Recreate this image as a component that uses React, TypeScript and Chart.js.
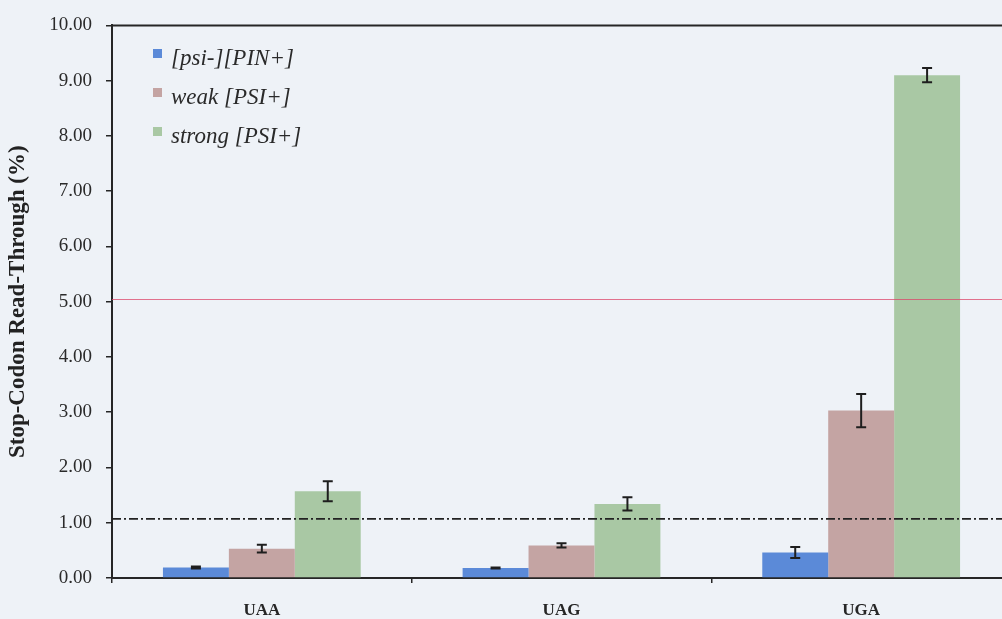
import React, { useEffect, useRef } from 'react';
import { Chart, registerables } from 'chart.js';

Chart.register(...registerables);

const categories = ['UAA', 'UAG', 'UGA'];
const seriesLabels = ['[psi-][PIN+]', 'weak [PSI+]', 'strong [PSI+]'];
const seriesColors = ['#5b8ad8', '#c4a4a3', '#a9c8a4'];
const psiMinusValues = [0.19, 0.18, 0.46];
const psiMinusErrors = [0.02, 0.01, 0.1];
const weakValues = [0.53, 0.59, 3.03];
const weakErrors = [0.07, 0.04, 0.3];
const strongValues = [1.57, 1.34, 9.1];
const strongErrors = [0.18, 0.12, 0.13];
const yMin = 0;
const yMax = 10;
const yStep = 1;
const yAxisTitle = 'Stop-Codon Read-Through (%)';
const redThreshold = 5.05;
const blackThreshold = 1.07;

const SERIF = "'Liberation Serif', 'Times New Roman', serif";

const overlayPlugin = {
  id: 'overlay',
  afterDatasetsDraw(chart: any) {
    const { ctx, chartArea, scales } = chart;
    const y = scales.y;
    ctx.save();

    // top border
    ctx.strokeStyle = '#262626';
    ctx.lineWidth = 2;
    ctx.beginPath();
    ctx.moveTo(chartArea.left, chartArea.top);
    ctx.lineTo(chartArea.right, chartArea.top);
    ctx.stroke();

    // red threshold
    const ry = Math.round(y.getPixelForValue(redThreshold)) + 0.5;
    ctx.setLineDash([]);
    ctx.strokeStyle = 'rgba(220, 70, 105, 0.75)';
    ctx.lineWidth = 1.1;
    ctx.beginPath();
    ctx.moveTo(chartArea.left, ry);
    ctx.lineTo(chartArea.right, ry);
    ctx.stroke();

    // black dash-dot threshold
    const by = y.getPixelForValue(blackThreshold);
    ctx.strokeStyle = '#222222';
    ctx.lineWidth = 1.6;
    ctx.setLineDash([9, 3, 2, 3]);
    ctx.beginPath();
    ctx.moveTo(chartArea.left, by);
    ctx.lineTo(chartArea.right, by);
    ctx.stroke();
    ctx.setLineDash([]);

    // error bars
    ctx.strokeStyle = '#1e1e1e';
    ctx.lineWidth = 2;
    chart.data.datasets.forEach((ds: any, i: number) => {
      const meta = chart.getDatasetMeta(i);
      meta.data.forEach((bar: any, j: number) => {
        const v = ds.data[j];
        const e = ds.errors[j];
        const x = bar.x;
        const yt = y.getPixelForValue(v + e);
        const yb = y.getPixelForValue(v - e);
        ctx.beginPath();
        ctx.moveTo(x, yt);
        ctx.lineTo(x, yb);
        ctx.moveTo(x - 5, yt);
        ctx.lineTo(x + 5, yt);
        ctx.moveTo(x - 5, yb);
        ctx.lineTo(x + 5, yb);
        ctx.stroke();
      });
    });

    // legend
    ctx.font = `italic 23px ${SERIF}`;
    ctx.textBaseline = 'alphabetic';
    ctx.textAlign = 'left';
    const baselines = [65, 104, 143];
    seriesLabels.forEach((label, i) => {
      const base = baselines[i];
      ctx.fillStyle = seriesColors[i];
      ctx.fillRect(153, base - 16, 9, 9);
      ctx.fillStyle = '#2a2a2a';
      ctx.fillText(label, 171, base);
    });

    ctx.restore();
  },
};

export default function App() {
  const canvasRef = useRef<HTMLCanvasElement | null>(null);

  useEffect(() => {
    const canvas = canvasRef.current;
    if (!canvas) return;
    const makeDs = (label: string, data: number[], errors: number[], color: string) => ({
      label,
      data,
      errors,
      backgroundColor: color,
      borderWidth: 0,
      categoryPercentage: 0.66,
      barPercentage: 1.0,
    });
    const chart = new Chart(canvas, {
      type: 'bar',
      data: {
        labels: categories,
        datasets: [
          makeDs(seriesLabels[0], psiMinusValues, psiMinusErrors, seriesColors[0]),
          makeDs(seriesLabels[1], weakValues, weakErrors, seriesColors[1]),
          makeDs(seriesLabels[2], strongValues, strongErrors, seriesColors[2]),
        ] as any,
      },
      options: {
        responsive: false,
        animation: false,
        devicePixelRatio: 1,
        layout: { padding: { top: 19, right: 1, left: 0, bottom: 0 } },
        plugins: {
          legend: { display: false },
          tooltip: { enabled: false },
          title: { display: false },
        },
        scales: {
          x: {
            grid: {
              display: true,
              drawOnChartArea: false,
              drawTicks: true,
              tickLength: 5,
              offset: true,
              color: '#262626',
              lineWidth: 1.5,
            },
            border: { display: true, color: '#262626', width: 2 },
            ticks: {
              color: '#262626',
              font: { family: SERIF, size: 17, weight: 'bold' },
              padding: 17,
            },
            afterFit(scale: any) {
              scale.height = 41;
            },
          },
          y: {
            min: yMin,
            max: yMax,
            grid: {
              display: true,
              drawOnChartArea: false,
              drawTicks: true,
              tickLength: 6,
              color: '#262626',
              lineWidth: 1.5,
            },
            border: { display: true, color: '#262626', width: 2 },
            ticks: {
              stepSize: yStep,
              color: '#2a2a2a',
              font: { family: SERIF, size: 19 },
              padding: 14,
              callback: (v: any) => Number(v).toFixed(2),
            },
            title: {
              display: true,
              text: yAxisTitle,
              color: '#222222',
              font: { family: SERIF, size: 23, weight: 'bold' },
              padding: { top: 4, bottom: 0 },
            },
            afterFit(scale: any) {
              scale.width = 112;
            },
          },
        },
      },
      plugins: [overlayPlugin],
    });
    return () => chart.destroy();
  }, []);

  return (
    <div
      style={{
        position: 'fixed',
        left: 0,
        top: 0,
        width: 1012,
        height: 619,
        background: '#eef2f7',
      }}
    >
      <canvas ref={canvasRef} width={1012} height={619} style={{ display: 'block' }} />
    </div>
  );
}
